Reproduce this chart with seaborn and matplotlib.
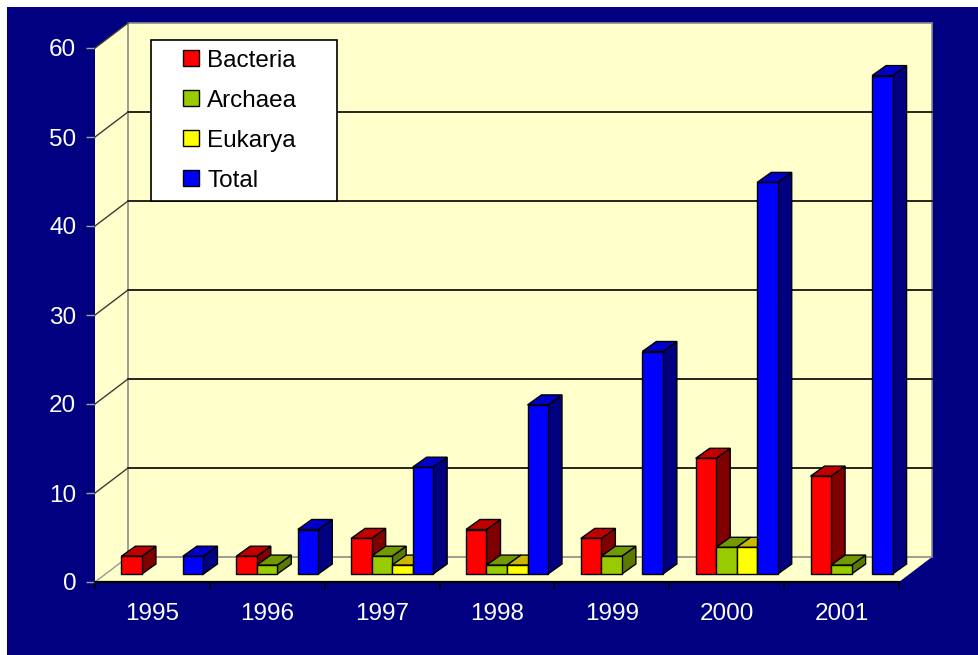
import numpy as np
import pandas as pd
import matplotlib
matplotlib.use("Agg")
import matplotlib.pyplot as plt
import seaborn as sns
from matplotlib import transforms as mtransforms
from matplotlib.patches import Rectangle, Polygon, Patch
from matplotlib.lines import Line2D
from matplotlib.legend_handler import HandlerPatch
from matplotlib.colors import to_hex

# ---- data -------------------------------------------------------------
years = ["1995", "1996", "1997", "1998", "1999", "2000", "2001"]
domains = ["Bacteria", "Archaea", "Eukarya", "Total"]
bacteria = [2, 2, 4, 5, 4, 13, 11]
archaea = [0, 1, 2, 1, 2, 3, 1]
eukarya = [0, 0, 1, 1, 0, 3, 0]
total = [2, 5, 12, 19, 25, 44, 56]
y_ticks = [0, 10, 20, 30, 40, 50, 60]

# ---- styling ----------------------------------------------------------
front_colors = ["#ff0000", "#99cc00", "#ffff00", "#0000ff"]
top_colors = ["#c00000", "#739900", "#ccb800", "#0000c8"]
side_colors = ["#800000", "#5c7a00", "#998f00", "#000080"]
NAVY = "#000080"
WALL = "#FFFFCC"

plt.rcParams["font.family"] = ["Liberation Sans", "DejaVu Sans"]

W, H = 979, 655
fig = plt.figure(figsize=(W / 100, H / 100), dpi=100, facecolor=NAVY)
fig.patches.append(Rectangle((0, 1 - 7 / H), 1, 7 / H, transform=fig.transFigure,
                             facecolor="white", edgecolor="none", zorder=-5))
fig.patches.append(Rectangle((0, 0), 7 / W, 1, transform=fig.transFigure,
                             facecolor="white", edgecolor="none", zorder=-5))

# pixel geometry of the front plane, and oblique offsets for the 3-D look
FRONT_LEFT, FRONT_RIGHT, FRONT_BASE, FRONT_TOP = 95, 899, 582, 48
BAR_SHIFT = (10, 8)     # bars sit a little behind the front plane
DEPTH = (33, 25)        # back wall offset
BAR_DEPTH = (14, 10)    # depth of each bar


def axes_rect(left_px, base_px):
    return [left_px / W, (H - base_px) / H,
            (FRONT_RIGHT - FRONT_LEFT) / W, (FRONT_BASE - FRONT_TOP) / H]


ax = fig.add_axes(axes_rect(FRONT_LEFT, FRONT_BASE))
axb = fig.add_axes(axes_rect(FRONT_LEFT + BAR_SHIFT[0], FRONT_BASE - BAR_SHIFT[1]))
ax.set_zorder(0)
axb.set_zorder(1)

# ---- bars ---------------------------------------------------------------
df = pd.DataFrame({
    "year": years * len(domains),
    "domain": np.repeat(domains, len(years)),
    "count": bacteria + archaea + eukarya + total,
})
sns.barplot(data=df, x="year", y="count", hue="domain", order=years,
            hue_order=domains, palette=front_colors, saturation=1,
            width=0.714, gap=0, dodge=True, errorbar=None,
            edgecolor="black", linewidth=1, legend=False, ax=axb)

x_lo, x_hi = -0.5, len(years) - 0.5
for a in (ax, axb):
    a.set_xlim(x_lo, x_hi)
    a.set_ylim(y_ticks[0], y_ticks[-1])
    a.patch.set_visible(False)
axb.set_axis_off()

ident = mtransforms.IdentityTransform()


def disp(x, y, off=(0, 0)):
    px, py = ax.transData.transform((x, y))
    return (px + off[0], py + off[1])


# ---- walls and floor ----------------------------------------------------
y0, y1 = y_ticks[0], y_ticks[-1]
walls = [
    [disp(x_lo, y0, DEPTH), disp(x_hi, y0, DEPTH), disp(x_hi, y1, DEPTH), disp(x_lo, y1, DEPTH)],
    [disp(x_lo, y0), disp(x_lo, y1), disp(x_lo, y1, DEPTH), disp(x_lo, y0, DEPTH)],
    [disp(x_lo, y0), disp(x_hi, y0), disp(x_hi, y0, DEPTH), disp(x_lo, y0, DEPTH)],
]
for verts in walls:
    ax.add_patch(Polygon(verts, closed=True, facecolor=WALL, edgecolor="none",
                         transform=ident, clip_on=False, zorder=1))

# back wall outline
bw = walls[0]
ax.add_patch(Polygon(bw, closed=True, facecolor="none", edgecolor="#8c8c8c",
                     linewidth=1.2, transform=ident, clip_on=False, zorder=2))

for v in y_ticks:
    inner = y0 < v < y1
    (bx0, by0), (bx1, by1) = disp(x_lo, v, DEPTH), disp(x_hi, v, DEPTH)
    if inner:
        ax.add_line(Line2D([bx0, bx1], [by0, by1], color="black", linewidth=1.2,
                           transform=ident, clip_on=False, zorder=3))
    (fx, fy), (dx_, dy_) = disp(x_lo, v), disp(x_lo, v, DEPTH)
    ax.add_line(Line2D([fx, dx_], [fy, dy_], color="#3a3a3a" if v > y0 else "#9a9a9a",
                       linewidth=1, transform=ident, clip_on=False, zorder=3))

# ---- 3-D faces for each bar ---------------------------------------------
bars = [p for p in axb.patches if isinstance(p, Rectangle)]
bars.sort(key=lambda p: p.get_x())
ddx, ddy = BAR_DEPTH
for i, p in enumerate(bars):
    h = p.get_height()
    if h <= 0:
        p.set_visible(False)
        continue
    k = front_colors.index(to_hex(p.get_facecolor()).lower())
    xa, ya = axb.transData.transform((p.get_x(), p.get_y()))
    xb, yb = axb.transData.transform((p.get_x() + p.get_width(), p.get_y() + h))
    base = 10 + 3 * i
    side = Polygon([(xb, ya), (xb, yb), (xb + ddx, yb + ddy), (xb + ddx, ya + ddy)],
                   closed=True, facecolor=side_colors[k], edgecolor="black",
                   linewidth=1, transform=ident, clip_on=False, zorder=base)
    top = Polygon([(xa, yb), (xb, yb), (xb + ddx, yb + ddy), (xa + ddx, yb + ddy)],
                  closed=True, facecolor=top_colors[k], edgecolor="black",
                  linewidth=1, transform=ident, clip_on=False, zorder=base + 1)
    axb.add_patch(side)
    axb.add_patch(top)
    p.set_zorder(base + 2)
    p.set_clip_on(False)

# ---- axes decoration ----------------------------------------------------
for s in ("left", "right", "top"):
    ax.spines[s].set_visible(False)
ax.spines["bottom"].set_color("black")
ax.spines["bottom"].set_linewidth(1.6)
ax.spines["bottom"].set_zorder(4)

ax.set_yticks(y_ticks)
ax.set_yticklabels([str(v) for v in y_ticks])
ax.tick_params(axis="y", length=6.5, width=1, color="#a0a0a0",
               labelcolor="white", labelsize=17.5, pad=7)

ax.set_xticks(range(len(years)))
ax.set_xticklabels(years)
ax.set_xticks(np.arange(x_lo, x_hi + 0.5, 1), minor=True)
ax.tick_params(axis="x", which="major", length=0, labelcolor="white",
               labelsize=17.5, pad=15)
ax.tick_params(axis="x", which="minor", length=5, width=1.2, color="black",
               direction="out")
ax.set_xlabel("")
ax.set_ylabel("")


# ---- legend ---------------------------------------------------------------
def square_handle(legend, orig_handle, xdescent, ydescent, width, height, fontsize):
    s = 0.66 * fontsize
    return Rectangle((-xdescent + width - s, -ydescent + (height - s) / 2), s, s)


handles = [Patch(facecolor=c, edgecolor="black", linewidth=1, label=d)
           for c, d in zip(front_colors, domains)]
leg = fig.legend(handles=handles, loc="upper left",
                 bbox_to_anchor=(151 / W, 1 - 40 / H, 186 / W, 0), mode="expand",
                 borderaxespad=0, fontsize=17.5, frameon=True, fancybox=False,
                 framealpha=1, facecolor="white", edgecolor="black",
                 borderpad=0.4, labelspacing=0.74, handlelength=1.57,
                 handleheight=0.7, handletextpad=0.34,
                 handler_map={Patch: HandlerPatch(patch_func=square_handle)})
leg.get_frame().set_linewidth(1.2)
leg.set_zorder(50)

fig.savefig("out.png", dpi=100, facecolor=fig.get_facecolor())
